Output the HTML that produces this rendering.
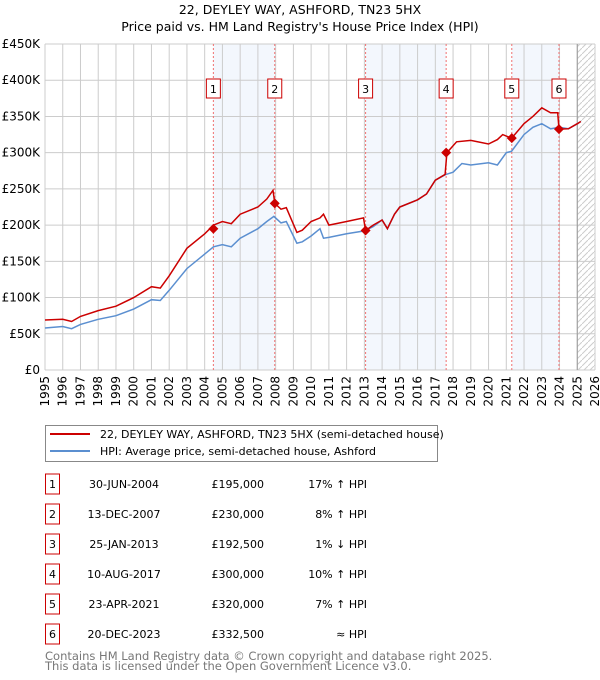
<!DOCTYPE html>
<html><head><meta charset="utf-8"><style>
body{margin:0;background:#fff;}
svg{display:block;font-family:"DejaVu Sans","Liberation Sans",sans-serif;}
</style></head><body>
<svg id="chart" width="600" height="680" viewBox="0 0 600 680">
<text x="300" y="14" text-anchor="middle" font-size="12.5">22, DEYLEY WAY, ASHFORD, TN23 5HX</text>
<text x="300" y="31" text-anchor="middle" font-size="12.5">Price paid vs. HM Land Registry's House Price Index (HPI)</text>
<g id="plot"></g>
<g>
<rect x="45.5" y="425.5" width="392" height="36" fill="#fff" stroke="#888"/>
<line x1="50" y1="434" x2="90" y2="434" stroke="#cc0000" stroke-width="2"/>
<text x="100" y="438" font-size="11">22, DEYLEY WAY, ASHFORD, TN23 5HX (semi-detached house)</text>
<line x1="50" y1="451" x2="90" y2="451" stroke="#5b8fd0" stroke-width="2"/>
<text x="100" y="455" font-size="11">HPI: Average price, semi-detached house, Ashford</text>
</g>
<g id="table"></g>
<text x="45" y="660" font-size="11.5" fill="#777">Contains HM Land Registry data © Crown copyright and database right 2025.</text>
<text x="45" y="670" font-size="11.5" fill="#777">This data is licensed under the Open Government Licence v3.0.</text>
</svg>
<script>
const yTicks=[0,50000,100000,150000,200000,250000,300000,350000,400000,450000];
const yTickLabels=["£0","£50K","£100K","£150K","£200K","£250K","£300K","£350K","£400K","£450K"];
const xYears=[1995,1996,1997,1998,1999,2000,2001,2002,2003,2004,2005,2006,2007,2008,2009,2010,2011,2012,2013,2014,2015,2016,2017,2018,2019,2020,2021,2022,2023,2024,2025,2026];
const hpiX=[1995,1996,1996.5,1997,1998,1999,2000,2001,2001.5,2002,2003,2004,2004.5,2005,2005.5,2006,2007,2007.5,2007.9,2008.3,2008.6,2009.2,2009.5,2010,2010.5,2010.7,2011,2012,2013,2013.5,2014,2014.3,2014.7,2015,2016,2016.5,2017,2017.6,2018,2018.5,2019,2020,2020.5,2021,2021.3,2022,2022.5,2023,2023.5,2024,2024.5,2025,2025.2];
const hpiY=[58000,60000,57000,63000,70000,75000,84000,97000,96000,110000,140000,160000,170000,173000,170000,182000,195000,205000,212000,203000,205000,175000,177000,185000,195000,182000,183000,188000,192000,198000,207000,195000,215000,225000,235000,243000,262000,270000,273000,285000,283000,286000,283000,300000,302000,325000,335000,340000,333000,335000,333000,340000,343000];
const priceX=[1995,1996,1996.5,1997,1998,1999,2000,2001,2001.5,2002,2003,2004,2004.5,2005,2005.5,2006,2007,2007.5,2007.85,2007.95,2008.3,2008.6,2009.2,2009.5,2010,2010.5,2010.7,2011,2012,2012.95,2013.07,2013.5,2014,2014.3,2014.7,2015,2016,2016.5,2017,2017.55,2017.65,2018.2,2019,2020,2020.5,2020.8,2021.3,2022,2022.5,2023,2023.5,2023.9,2023.97,2024.5,2025,2025.2];
const priceY=[69000,70000,67000,74000,82000,88000,100000,115000,113000,130000,168000,188000,200000,205000,202000,215000,225000,236000,248000,230000,222000,224000,190000,193000,205000,210000,215000,200000,205000,210000,192500,200000,207000,195000,215000,225000,235000,243000,262000,270000,300000,315000,317000,312000,318000,325000,320000,340000,350000,362000,355000,355000,332500,333000,340000,343000];
const saleX=[2004.49,2007.95,2013.07,2017.61,2021.31,2023.97];
const saleY=[195000,230000,192500,300000,320000,332500];
const saleLabels=["1","2","3","4","5","6"];
const saleDates=["30-JUN-2004","13-DEC-2007","25-JAN-2013","10-AUG-2017","23-APR-2021","20-DEC-2023"];
const salePrices=["£195,000","£230,000","£192,500","£300,000","£320,000","£332,500"];
const saleHpi=["17% ↑ HPI","8% ↑ HPI","1% ↓ HPI","10% ↑ HPI","7% ↑ HPI","≈ HPI"];

const L=45,R=595,T=44,B=370,X0=1995,X1=2026,YMAX=450000;
const sx=v=>L+(v-X0)/(X1-X0)*(R-L);
const sy=v=>B-v/YMAX*(B-T);
const NS="http://www.w3.org/2000/svg";
const plot=document.getElementById('plot');
function mk(tag,attrs,parent){const e=document.createElementNS(NS,tag);for(const k in attrs)e.setAttribute(k,attrs[k]);(parent||plot).appendChild(e);return e;}

// shaded regions
for(let i=0;i<6;i+=2){
  const r=mk('rect',{x:sx(saleX[i]),y:T,width:sx(saleX[i+1])-sx(saleX[i]),height:B-T,fill:'#eef3fc',opacity:0.7});
  
  
}
// hatch future
const defs=mk('defs',{});
const pat=mk('pattern',{id:'hatch',width:6,height:6,patternUnits:'userSpaceOnUse'},defs);
mk('path',{d:'M0,6 L6,0',stroke:'#ccc','stroke-width':1},pat);
const hr=mk('rect',{x:sx(2025),y:T,width:R-sx(2025),height:B-T,fill:'url(#hatch)'});


// grid
yTicks.forEach((v,i)=>{
  const l=mk('line',{x1:L,x2:R,y1:sy(v),y2:sy(v),stroke:'#ccc'});
  
  
  const t=mk('text',{x:L-5,y:sy(v)+4,'text-anchor':'end','font-size':12});
  t.textContent=yTickLabels[i];
  
  
});
xYears.forEach(v=>{
  const l=mk('line',{x1:sx(v),x2:sx(v),y1:T,y2:B,stroke:'#ccc'});
  
  
  const t=mk('text',{transform:`translate(${sx(v)+4},${B+6}) rotate(-90)`,'text-anchor':'end','font-size':12});
  t.textContent=v;
  
  
});
const nl=mk('line',{x1:sx(2025),x2:sx(2025),y1:T,y2:B,stroke:'#999','stroke-width':1});


// sale vlines
saleX.forEach(v=>{
  const l=mk('line',{x1:sx(v),x2:sx(v),y1:T,y2:B,stroke:'#f07070','stroke-dasharray':'2,2'});
  
  
});
// lines
function path(xs,ys){return xs.map((x,i)=>(i?'L':'M')+sx(x).toFixed(1)+','+sy(ys[i]).toFixed(1)).join(' ');}
const hp=mk('path',{d:path(hpiX,hpiY),fill:'none',stroke:'#5b8fd0','stroke-width':1.5});


const pp=mk('path',{d:path(priceX,priceY),fill:'none',stroke:'#cc0000','stroke-width':1.5});


saleX.forEach((v,i)=>{
  const x=sx(v),y=sy(saleY[i]);
  const d=mk('path',{d:`M${x},${y-5} L${x+5},${y} L${x},${y+5} L${x-5},${y} Z`,fill:'#cc0000'});
  
  
  const b=mk('rect',{x:x-7,y:79,width:14,height:19,fill:'#fff',stroke:'#cc0000'});
  
  
  const t=mk('text',{x:x,y:93,'text-anchor':'middle','font-size':11});
  t.textContent=saleLabels[i];
  
  
});
// table
const tbl=document.getElementById('table');
saleLabels.forEach((s,i)=>{
  const cy=484+i*30;
  const g=mk('g',{},tbl);
  
  
  mk('rect',{x:45.5,y:cy-10,width:14,height:20,fill:'#fff',stroke:'#cc0000'},g);
  const a=mk('text',{x:52.5,y:cy+4,'text-anchor':'middle','font-size':11},g);a.textContent=s;
  const b=mk('text',{x:124,y:cy+4,'text-anchor':'middle','font-size':11},g);b.textContent=saleDates[i];
  const c=mk('text',{x:264,y:cy+4,'text-anchor':'end','font-size':11},g);c.textContent=salePrices[i];
  const d=mk('text',{x:367,y:cy+4,'text-anchor':'end','font-size':11},g);d.textContent=saleHpi[i];
});
</script>
</body></html>
